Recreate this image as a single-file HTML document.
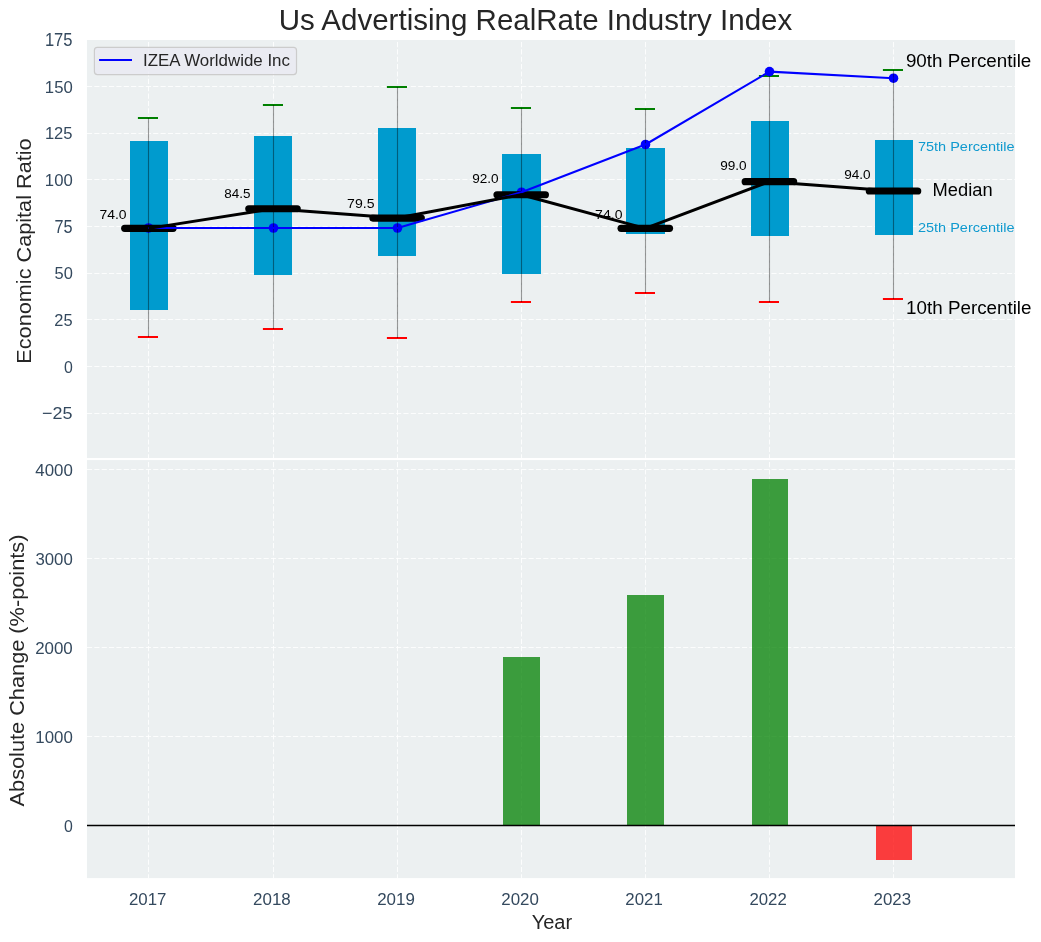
<!DOCTYPE html>
<html><head><meta charset="utf-8"><style>html,body{margin:0;padding:0;background:#fff;width:1041px;height:942px;overflow:hidden;position:relative}</style></head>
<body>
<svg width="1041" height="942" viewBox="0 0 1041 942" style="display:block;position:absolute;left:0;top:0;will-change:transform">
<defs>
<clipPath id="c1"><rect x="86.95" y="40.0" width="928.05" height="418.00"/></clipPath>
<clipPath id="c2"><rect x="86.95" y="460.1" width="928.05" height="418.00"/></clipPath>
</defs>
<rect width="1041" height="942" fill="#ffffff"/>
<rect x="86.95" y="40.0" width="928.05" height="418.00" fill="#ECF0F1"/>
<rect x="86.95" y="460.1" width="928.05" height="418.00" fill="#ECF0F1"/>
<g clip-path="url(#c1)">
<line x1="86.95" y1="86.5" x2="1015.0" y2="86.5" stroke="#ffffff" stroke-width="1.1" stroke-opacity="0.85" stroke-dasharray="5.14 2.22" fill="none"/>
<line x1="86.95" y1="133.5" x2="1015.0" y2="133.5" stroke="#ffffff" stroke-width="1.1" stroke-opacity="0.85" stroke-dasharray="5.14 2.22" fill="none"/>
<line x1="86.95" y1="179.5" x2="1015.0" y2="179.5" stroke="#ffffff" stroke-width="1.1" stroke-opacity="0.85" stroke-dasharray="5.14 2.22" fill="none"/>
<line x1="86.95" y1="226.5" x2="1015.0" y2="226.5" stroke="#ffffff" stroke-width="1.1" stroke-opacity="0.85" stroke-dasharray="5.14 2.22" fill="none"/>
<line x1="86.95" y1="273.5" x2="1015.0" y2="273.5" stroke="#ffffff" stroke-width="1.1" stroke-opacity="0.85" stroke-dasharray="5.14 2.22" fill="none"/>
<line x1="86.95" y1="319.5" x2="1015.0" y2="319.5" stroke="#ffffff" stroke-width="1.1" stroke-opacity="0.85" stroke-dasharray="5.14 2.22" fill="none"/>
<line x1="86.95" y1="366.5" x2="1015.0" y2="366.5" stroke="#ffffff" stroke-width="1.1" stroke-opacity="0.85" stroke-dasharray="5.14 2.22" fill="none"/>
<line x1="86.95" y1="413.5" x2="1015.0" y2="413.5" stroke="#ffffff" stroke-width="1.1" stroke-opacity="0.85" stroke-dasharray="5.14 2.22" fill="none"/>
<line x1="148.5" y1="458.0" x2="148.5" y2="40.0" stroke="#ffffff" stroke-width="1.1" stroke-opacity="0.85" stroke-dasharray="5.14 2.22" fill="none" stroke-dashoffset="1.3"/>
<line x1="273.5" y1="458.0" x2="273.5" y2="40.0" stroke="#ffffff" stroke-width="1.1" stroke-opacity="0.85" stroke-dasharray="5.14 2.22" fill="none" stroke-dashoffset="1.3"/>
<line x1="397.5" y1="458.0" x2="397.5" y2="40.0" stroke="#ffffff" stroke-width="1.1" stroke-opacity="0.85" stroke-dasharray="5.14 2.22" fill="none" stroke-dashoffset="1.3"/>
<line x1="521.5" y1="458.0" x2="521.5" y2="40.0" stroke="#ffffff" stroke-width="1.1" stroke-opacity="0.85" stroke-dasharray="5.14 2.22" fill="none" stroke-dashoffset="1.3"/>
<line x1="645.5" y1="458.0" x2="645.5" y2="40.0" stroke="#ffffff" stroke-width="1.1" stroke-opacity="0.85" stroke-dasharray="5.14 2.22" fill="none" stroke-dashoffset="1.3"/>
<line x1="769.5" y1="458.0" x2="769.5" y2="40.0" stroke="#ffffff" stroke-width="1.1" stroke-opacity="0.85" stroke-dasharray="5.14 2.22" fill="none" stroke-dashoffset="1.3"/>
<line x1="893.5" y1="458.0" x2="893.5" y2="40.0" stroke="#ffffff" stroke-width="1.1" stroke-opacity="0.85" stroke-dasharray="5.14 2.22" fill="none" stroke-dashoffset="1.3"/>
</g>
<g clip-path="url(#c2)">
<line x1="86.95" y1="469.5" x2="1015.0" y2="469.5" stroke="#ffffff" stroke-width="1.1" stroke-opacity="0.85" stroke-dasharray="5.14 2.22" fill="none"/>
<line x1="86.95" y1="558.5" x2="1015.0" y2="558.5" stroke="#ffffff" stroke-width="1.1" stroke-opacity="0.85" stroke-dasharray="5.14 2.22" fill="none"/>
<line x1="86.95" y1="647.5" x2="1015.0" y2="647.5" stroke="#ffffff" stroke-width="1.1" stroke-opacity="0.85" stroke-dasharray="5.14 2.22" fill="none"/>
<line x1="86.95" y1="736.5" x2="1015.0" y2="736.5" stroke="#ffffff" stroke-width="1.1" stroke-opacity="0.85" stroke-dasharray="5.14 2.22" fill="none"/>
<line x1="148.5" y1="878.1" x2="148.5" y2="460.1" stroke="#ffffff" stroke-width="1.1" stroke-opacity="0.85" stroke-dasharray="5.14 2.22" fill="none" stroke-dashoffset="1.3"/>
<line x1="273.5" y1="878.1" x2="273.5" y2="460.1" stroke="#ffffff" stroke-width="1.1" stroke-opacity="0.85" stroke-dasharray="5.14 2.22" fill="none" stroke-dashoffset="1.3"/>
<line x1="397.5" y1="878.1" x2="397.5" y2="460.1" stroke="#ffffff" stroke-width="1.1" stroke-opacity="0.85" stroke-dasharray="5.14 2.22" fill="none" stroke-dashoffset="1.3"/>
<line x1="521.5" y1="878.1" x2="521.5" y2="460.1" stroke="#ffffff" stroke-width="1.1" stroke-opacity="0.85" stroke-dasharray="5.14 2.22" fill="none" stroke-dashoffset="1.3"/>
<line x1="645.5" y1="878.1" x2="645.5" y2="460.1" stroke="#ffffff" stroke-width="1.1" stroke-opacity="0.85" stroke-dasharray="5.14 2.22" fill="none" stroke-dashoffset="1.3"/>
<line x1="769.5" y1="878.1" x2="769.5" y2="460.1" stroke="#ffffff" stroke-width="1.1" stroke-opacity="0.85" stroke-dasharray="5.14 2.22" fill="none" stroke-dashoffset="1.3"/>
<line x1="893.5" y1="878.1" x2="893.5" y2="460.1" stroke="#ffffff" stroke-width="1.1" stroke-opacity="0.85" stroke-dasharray="5.14 2.22" fill="none" stroke-dashoffset="1.3"/>
</g>
<g clip-path="url(#c1)">
<rect x="130" y="141" width="38" height="169" fill="#009BCE"/>
<rect x="254" y="136" width="38" height="139" fill="#009BCE"/>
<rect x="378" y="128" width="38" height="128" fill="#009BCE"/>
<rect x="502" y="154" width="39" height="120" fill="#009BCE"/>
<rect x="626" y="148" width="39" height="86" fill="#009BCE"/>
<rect x="751" y="121" width="38" height="115" fill="#009BCE"/>
<rect x="875" y="140" width="38" height="95" fill="#009BCE"/>
<line x1="137.90" y1="118" x2="158.00" y2="118" stroke="#008000" stroke-width="2"/>
<line x1="137.90" y1="337" x2="158.00" y2="337" stroke="#ff0000" stroke-width="2"/>
<line x1="262.90" y1="105" x2="283.00" y2="105" stroke="#008000" stroke-width="2"/>
<line x1="262.90" y1="329" x2="283.00" y2="329" stroke="#ff0000" stroke-width="2"/>
<line x1="386.90" y1="87" x2="407.00" y2="87" stroke="#008000" stroke-width="2"/>
<line x1="386.90" y1="338" x2="407.00" y2="338" stroke="#ff0000" stroke-width="2"/>
<line x1="510.90" y1="108" x2="531.00" y2="108" stroke="#008000" stroke-width="2"/>
<line x1="510.90" y1="302" x2="531.00" y2="302" stroke="#ff0000" stroke-width="2"/>
<line x1="634.90" y1="109" x2="655.00" y2="109" stroke="#008000" stroke-width="2"/>
<line x1="634.90" y1="293" x2="655.00" y2="293" stroke="#ff0000" stroke-width="2"/>
<line x1="758.90" y1="76" x2="779.00" y2="76" stroke="#008000" stroke-width="2"/>
<line x1="758.90" y1="302" x2="779.00" y2="302" stroke="#ff0000" stroke-width="2"/>
<line x1="882.90" y1="70" x2="903.00" y2="70" stroke="#008000" stroke-width="2"/>
<line x1="882.90" y1="299" x2="903.00" y2="299" stroke="#ff0000" stroke-width="2"/>
<circle cx="148.50" cy="228.00" r="4.8" fill="#0000ff"/>
<circle cx="273.50" cy="228.00" r="4.8" fill="#0000ff"/>
<circle cx="397.50" cy="228.00" r="4.8" fill="#0000ff"/>
<circle cx="521.50" cy="192.20" r="4.8" fill="#0000ff"/>
<circle cx="645.50" cy="144.50" r="4.8" fill="#0000ff"/>
<circle cx="769.50" cy="71.60" r="4.8" fill="#0000ff"/>
<circle cx="893.50" cy="78.20" r="4.8" fill="#0000ff"/>
<line x1="148.5" y1="118" x2="148.5" y2="337" stroke="#000" stroke-opacity="0.4" stroke-width="1.1"/>
<line x1="273.5" y1="105" x2="273.5" y2="329" stroke="#000" stroke-opacity="0.4" stroke-width="1.1"/>
<line x1="397.5" y1="87" x2="397.5" y2="338" stroke="#000" stroke-opacity="0.4" stroke-width="1.1"/>
<line x1="521.5" y1="108" x2="521.5" y2="302" stroke="#000" stroke-opacity="0.4" stroke-width="1.1"/>
<line x1="645.5" y1="109" x2="645.5" y2="293" stroke="#000" stroke-opacity="0.4" stroke-width="1.1"/>
<line x1="769.5" y1="76" x2="769.5" y2="302" stroke="#000" stroke-opacity="0.4" stroke-width="1.1"/>
<line x1="893.5" y1="70" x2="893.5" y2="299" stroke="#000" stroke-opacity="0.4" stroke-width="1.1"/>
<line x1="124.70" y1="228.37" x2="173.10" y2="228.37" stroke="#000" stroke-width="7.2" stroke-linecap="round"/>
<line x1="248.80" y1="208.75" x2="297.20" y2="208.75" stroke="#000" stroke-width="7.2" stroke-linecap="round"/>
<line x1="372.90" y1="218.09" x2="421.30" y2="218.09" stroke="#000" stroke-width="7.2" stroke-linecap="round"/>
<line x1="497.00" y1="194.74" x2="545.40" y2="194.74" stroke="#000" stroke-width="7.2" stroke-linecap="round"/>
<line x1="621.10" y1="228.37" x2="669.50" y2="228.37" stroke="#000" stroke-width="7.2" stroke-linecap="round"/>
<line x1="745.20" y1="181.67" x2="793.60" y2="181.67" stroke="#000" stroke-width="7.2" stroke-linecap="round"/>
<line x1="869.30" y1="191.01" x2="917.70" y2="191.01" stroke="#000" stroke-width="7.2" stroke-linecap="round"/>
<polyline points="148.50,228.00 273.50,228.00 397.50,228.00 521.50,192.20 645.50,144.50 769.50,71.60 893.50,78.20" fill="none" stroke="#0000ff" stroke-width="2.08" stroke-linejoin="round"/>
<polyline points="148.90,228.37 273.00,208.75 397.10,218.09 521.20,194.74 645.30,228.37 769.40,181.67 893.50,191.01" fill="none" stroke="#000" stroke-width="3.0" stroke-linejoin="round"/>
</g>
<g clip-path="url(#c2)">
<rect x="503" y="657" width="37" height="168.5" fill="#008000" fill-opacity="0.75"/>
<rect x="627" y="595" width="37" height="230.5" fill="#008000" fill-opacity="0.75"/>
<rect x="752" y="479" width="36" height="346.5" fill="#008000" fill-opacity="0.75"/>
<rect x="876" y="825.5" width="36" height="34.5" fill="#ff0000" fill-opacity="0.75"/>
<line x1="86.95" y1="825.5" x2="1015.0" y2="825.5" stroke="#000" stroke-width="1.3"/>
</g>
<g font-family="Liberation Sans, sans-serif">
<text x="99.50" y="218.80" font-size="12.760" textLength="27.14" lengthAdjust="spacingAndGlyphs" fill="#000000">74.0</text>
<text x="224.27" y="198.00" font-size="12.903" textLength="26.19" lengthAdjust="spacingAndGlyphs" fill="#000000">84.5</text>
<text x="347.14" y="208.00" font-size="12.903" textLength="27.34" lengthAdjust="spacingAndGlyphs" fill="#000000">79.5</text>
<text x="472.19" y="183.00" font-size="12.903" textLength="26.43" lengthAdjust="spacingAndGlyphs" fill="#000000">92.0</text>
<text x="595.14" y="218.80" font-size="12.616" textLength="27.31" lengthAdjust="spacingAndGlyphs" fill="#000000">74.0</text>
<text x="720.19" y="170.00" font-size="12.832" textLength="26.43" lengthAdjust="spacingAndGlyphs" fill="#000000">99.0</text>
<text x="844.19" y="179.00" font-size="12.832" textLength="26.43" lengthAdjust="spacingAndGlyphs" fill="#000000">94.0</text>
<text x="905.91" y="66.80" font-size="19.034" textLength="125.41" lengthAdjust="spacingAndGlyphs" fill="#000000">90th Percentile</text>
<text x="917.98" y="150.80" font-size="13.103" textLength="96.66" lengthAdjust="spacingAndGlyphs" fill="#109ACF">75th Percentile</text>
<text x="932.59" y="195.90" font-size="19.172" textLength="60.00" lengthAdjust="spacingAndGlyphs" fill="#000000">Median</text>
<text x="917.98" y="231.90" font-size="13.241" textLength="96.66" lengthAdjust="spacingAndGlyphs" fill="#109ACF">25th Percentile</text>
<text x="906.09" y="313.90" font-size="19.172" textLength="125.43" lengthAdjust="spacingAndGlyphs" fill="#000000">10th Percentile</text>
<rect x="94.4" y="47.4" width="202.10" height="27.20" rx="3" ry="3" fill="#EAEAF2" fill-opacity="0.8" stroke="#CCCCCC" stroke-width="1.2"/>
<line x1="99.1" y1="60.0" x2="132.0" y2="60.0" stroke="#0000ff" stroke-width="2.08"/>
<text x="142.94" y="65.90" font-size="17.164" textLength="147.02" lengthAdjust="spacingAndGlyphs" fill="#262626">IZEA Worldwide Inc</text>
<text x="278.68" y="29.60" font-size="28.713" textLength="513.60" lengthAdjust="spacingAndGlyphs" fill="#262626">Us Advertising RealRate Industry Index</text>
<text x="44.88" y="46.05" font-size="17.455" textLength="27.61" lengthAdjust="spacingAndGlyphs" fill="#34495E">175</text>
<text x="44.87" y="93.10" font-size="17.204" textLength="27.88" lengthAdjust="spacingAndGlyphs" fill="#34495E">150</text>
<text x="44.88" y="138.95" font-size="17.204" textLength="27.61" lengthAdjust="spacingAndGlyphs" fill="#34495E">125</text>
<text x="44.87" y="185.95" font-size="17.204" textLength="27.88" lengthAdjust="spacingAndGlyphs" fill="#34495E">100</text>
<text x="54.44" y="233.00" font-size="17.455" textLength="18.08" lengthAdjust="spacingAndGlyphs" fill="#34495E">75</text>
<text x="54.52" y="278.85" font-size="17.204" textLength="18.26" lengthAdjust="spacingAndGlyphs" fill="#34495E">50</text>
<text x="54.28" y="325.85" font-size="17.204" textLength="18.24" lengthAdjust="spacingAndGlyphs" fill="#34495E">25</text>
<text x="63.90" y="372.95" font-size="17.204" textLength="8.82" lengthAdjust="spacingAndGlyphs" fill="#34495E">0</text>
<text x="42.12" y="419.05" font-size="17.204" textLength="30.44" lengthAdjust="spacingAndGlyphs" fill="#34495E">−25</text>
<text x="35.26" y="475.90" font-size="17.204" textLength="37.54" lengthAdjust="spacingAndGlyphs" fill="#34495E">4000</text>
<text x="35.42" y="564.90" font-size="17.204" textLength="37.37" lengthAdjust="spacingAndGlyphs" fill="#34495E">3000</text>
<text x="35.17" y="653.90" font-size="17.204" textLength="37.63" lengthAdjust="spacingAndGlyphs" fill="#34495E">2000</text>
<text x="35.31" y="742.90" font-size="17.204" textLength="37.48" lengthAdjust="spacingAndGlyphs" fill="#34495E">1000</text>
<text x="63.90" y="831.90" font-size="17.204" textLength="8.82" lengthAdjust="spacingAndGlyphs" fill="#34495E">0</text>
<text x="128.96" y="904.90" font-size="17.204" textLength="37.54" lengthAdjust="spacingAndGlyphs" fill="#34495E">2017</text>
<text x="253.05" y="904.90" font-size="17.204" textLength="37.68" lengthAdjust="spacingAndGlyphs" fill="#34495E">2018</text>
<text x="377.15" y="904.90" font-size="17.204" textLength="37.68" lengthAdjust="spacingAndGlyphs" fill="#34495E">2019</text>
<text x="501.25" y="904.90" font-size="17.204" textLength="37.63" lengthAdjust="spacingAndGlyphs" fill="#34495E">2020</text>
<text x="625.36" y="904.90" font-size="17.204" textLength="37.41" lengthAdjust="spacingAndGlyphs" fill="#34495E">2021</text>
<text x="749.46" y="904.90" font-size="17.204" textLength="37.34" lengthAdjust="spacingAndGlyphs" fill="#34495E">2022</text>
<text x="873.56" y="904.90" font-size="17.204" textLength="37.52" lengthAdjust="spacingAndGlyphs" fill="#34495E">2023</text>
<text x="531.65" y="928.90" font-size="20.218" textLength="40.46" lengthAdjust="spacingAndGlyphs" fill="#262626">Year</text>
<text transform="translate(30.70,363.69) rotate(-90)" font-size="19.927" textLength="225.29" lengthAdjust="spacingAndGlyphs" fill="#262626">Economic Capital Ratio</text>
<text transform="translate(23.90,806.45) rotate(-90)" font-size="20.945" textLength="271.85" lengthAdjust="spacingAndGlyphs" fill="#262626">Absolute Change (%-points)</text>
</g>
</svg>
</body></html>
